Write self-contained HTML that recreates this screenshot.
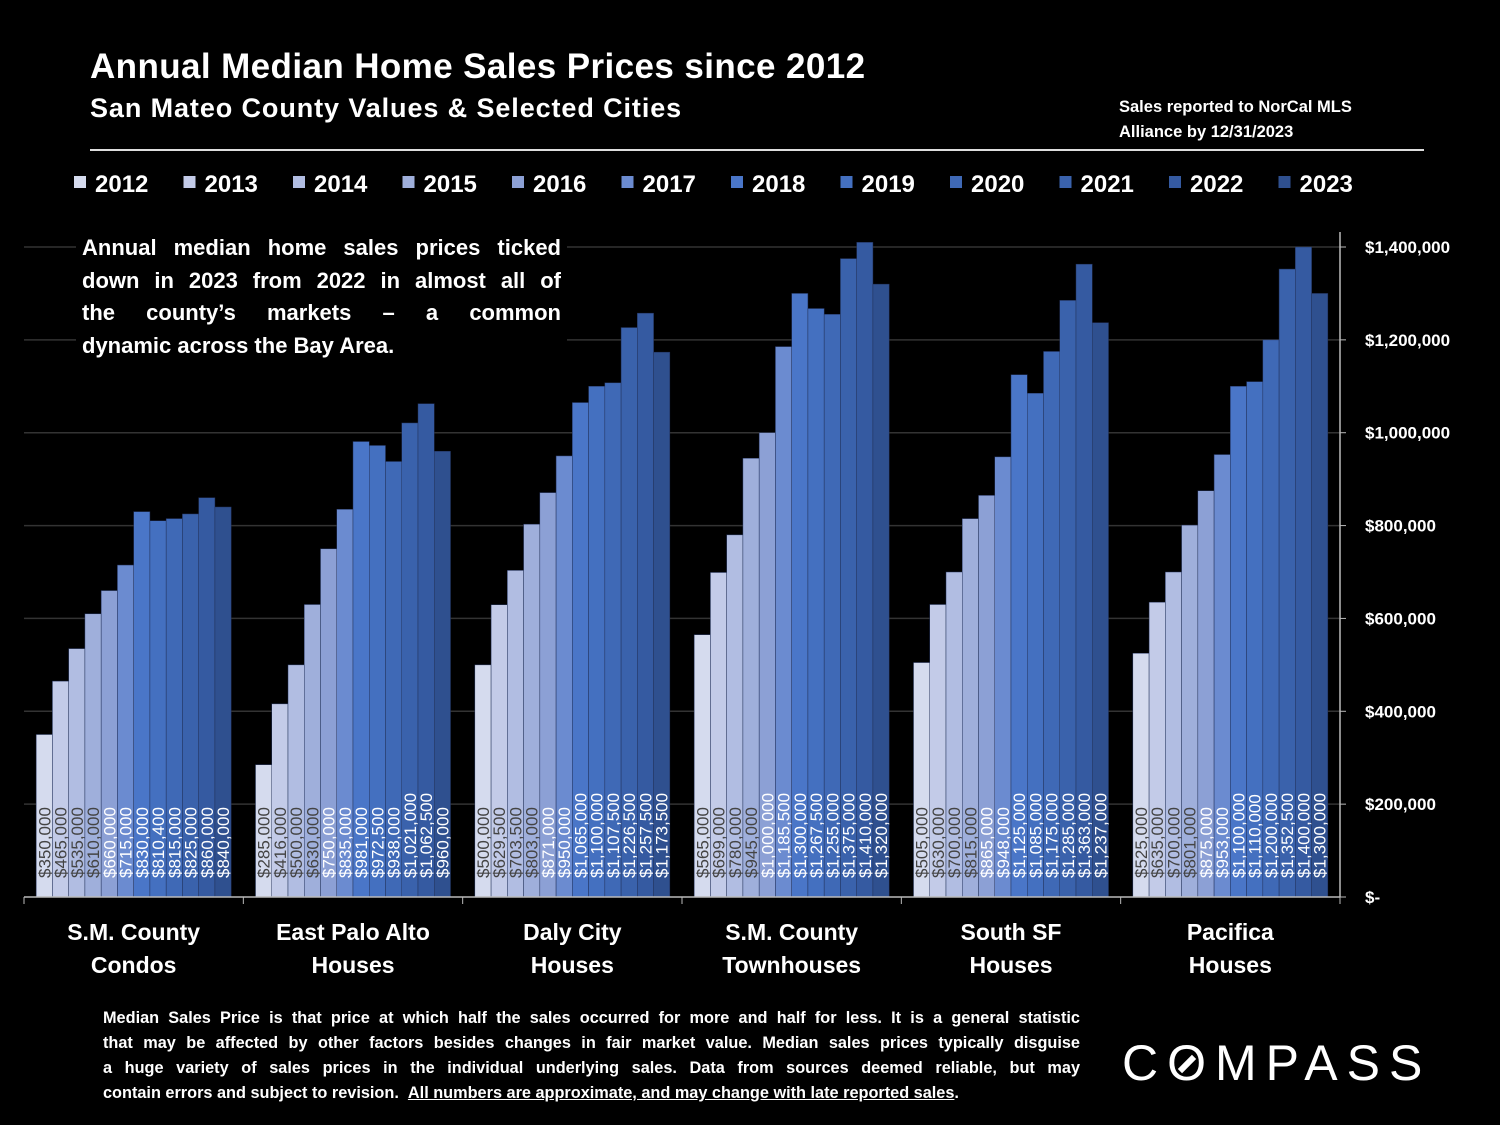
<!DOCTYPE html>
<html><head><meta charset="utf-8"><style>
body{margin:0;background:#000;width:1500px;height:1125px;overflow:hidden;font-family:"Liberation Sans",sans-serif;color:#fff}
.t{position:absolute;font-weight:bold;white-space:nowrap}
.j{display:block;text-align:justify;text-align-last:justify;white-space:nowrap}
</style></head><body>
<svg id="chart" width="1500" height="1125" style="position:absolute;left:0;top:0"></svg>
<div class="t" style="left:90px;top:47px;font-size:35px;letter-spacing:0.4px">Annual Median Home Sales Prices since 2012</div>
<div class="t" style="left:90px;top:93px;font-size:27px;letter-spacing:0.9px">San Mateo County Values &amp; Selected Cities</div>
<div class="t" style="left:1119px;top:95px;font-size:16.5px;line-height:25px">Sales reported to NorCal MLS<br>Alliance by 12/31/2023</div>
<div style="position:absolute;left:90px;top:149px;width:1334px;height:2px;background:#ddd"></div>
<div class="t" style="left:76px;top:230px;width:491px;padding:2px 6px;box-sizing:border-box;background:#000;font-size:22px;line-height:32.5px;white-space:normal">
<span class="j">Annual median home sales prices ticked</span><span class="j">down in 2023 from 2022 in almost all of</span><span class="j">the county’s markets – a common</span><span style="display:block">dynamic across the Bay Area.</span></div>
<div class="t" style="left:103px;top:1006px;width:977px;font-size:16.3px;line-height:25px;white-space:normal">
<span class="j">Median Sales Price is that price at which half the sales occurred for more and half for less. It is a general statistic</span><span class="j">that may be affected by other factors besides changes in fair market value. Median sales prices typically disguise</span><span class="j">a huge variety of sales prices in the individual underlying sales. Data from sources deemed reliable, but may</span><span style="display:block">contain errors and subject to revision. &nbsp;<u>All numbers are approximate, and may change with late reported sales</u>.</span></div>
<div class="t" style="left:1122px;top:1034px;font-size:50px;font-weight:normal;letter-spacing:9px">C<span style="display:inline-block;position:relative">O<span style="position:absolute;left:10px;top:27px;width:20px;height:6px;background:#fff;transform:rotate(-45deg)"></span></span>MPASS</div>
<script>
const categories=[["S.M. County","Condos"],["East Palo Alto","Houses"],["Daly City","Houses"],["S.M. County","Townhouses"],["South SF","Houses"],["Pacifica","Houses"]];
const years=["2012","2013","2014","2015","2016","2017","2018","2019","2020","2021","2022","2023"];
const values=[
[350000,465000,535000,610000,660000,715000,830000,810400,815000,825000,860000,840000],
[285000,416000,500000,630000,750000,835000,981000,972500,938000,1021000,1062500,960000],
[500000,629500,703500,803000,871000,950000,1065000,1100000,1107500,1226500,1257500,1173500],
[565000,699000,780000,945000,1000000,1185500,1300000,1267500,1255000,1375000,1410000,1320000],
[505000,630000,700000,815000,865000,948000,1125000,1085000,1175000,1285000,1363000,1237000],
[525000,635000,700000,801000,875000,953000,1100000,1110000,1200000,1352500,1400000,1300000]];
const yTicks=[0,200000,400000,600000,800000,1000000,1200000,1400000];
const yTickLabels=["$-","$200,000","$400,000","$600,000","$800,000","$1,000,000","$1,200,000","$1,400,000"];
const colors=['#d5dbee','#c3cbe8','#b1bde2','#9fafdb','#8ca0d5','#6b8bd0','#4a76c8','#4470c0','#3f69b6','#3a62ac','#355aa1','#2f508f'];
const NS="http://www.w3.org/2000/svg",svg=document.getElementById('chart');
const X0=24,X1=1340,Y0=897,Y1=247;
const y=v=>Y0-(v/1400000)*(Y0-Y1);
const gw=(X1-X0)/categories.length,bw=16.25,pad=(gw-bw*12)/2;
function mk(t,a,txt){const e=document.createElementNS(NS,t);for(const k in a)e.setAttribute(k,a[k]);if(txt!==undefined)e.textContent=txt;svg.appendChild(e);return e;}
yTicks.forEach((v,i)=>{
 if(v>0){const g=mk('line',{x1:X0,x2:X1,y1:y(v),y2:y(v),stroke:'#333','stroke-width':1.5});
 
 }
 const l=mk('text',{x:1365,y:y(v)+6,fill:'#fff','font-size':17,'font-weight':'bold'},yTickLabels[i]);
 
 
 mk('line',{x1:X1,x2:X1+6,y1:y(v),y2:y(v),stroke:'#bbb'});
});
mk('line',{x1:X1,x2:X1,y1:Y1-15,y2:Y0,stroke:'#bbb','stroke-width':1.5});
years.forEach((yr,i)=>{
 const lx=74+i*109.5;
 const r=mk('rect',{x:lx,y:176,width:12,height:12,fill:colors[i]});
 
 
 const t=mk('text',{x:lx+21,y:192,fill:'#fff','font-size':24,'font-weight':'bold'},yr);
 
 
});
categories.forEach((c,ci)=>{
 const gx=X0+ci*gw;
 values[ci].forEach((v,i)=>{
  const bx=gx+pad+i*bw;
  const b=mk('rect',{x:bx,y:y(v),width:bw,height:Y0-y(v),fill:colors[i],stroke:'#23325a','stroke-width':0.5});
  
  
  const lbl='$'+v.toLocaleString('en-US');
  const t=mk('text',{transform:`translate(${bx+bw/2+6},878) rotate(-90)`,fill:i<4?'#444':'#fff','font-size':17},lbl);
  
  
 });
 c.forEach((s,k)=>{
  const t=mk('text',{x:gx+gw/2,y:940+k*33,fill:'#fff','font-size':23,'font-weight':'bold','text-anchor':'middle'},s);
  
  
 });
 mk('line',{x1:gx,x2:gx,y1:Y0,y2:Y0+7,stroke:'#bbb'});
});
mk('line',{x1:X1,x2:X1,y1:Y0,y2:Y0+7,stroke:'#bbb'});
mk('line',{x1:X0,x2:X1,y1:Y0,y2:Y0,stroke:'#bbb','stroke-width':1.5});
</script>
</body></html>
